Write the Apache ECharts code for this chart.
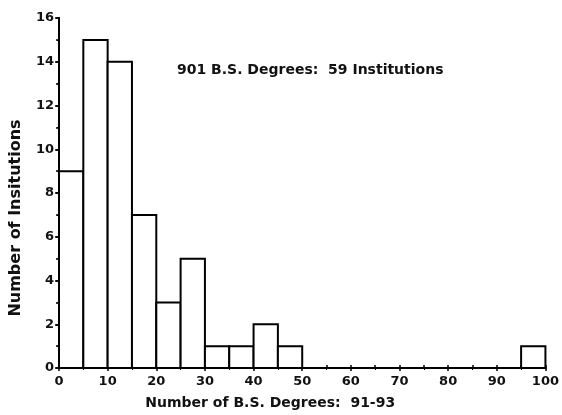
<!DOCTYPE html>
<html>
<head>
<meta charset="utf-8">
<script src="https://cdn.jsdelivr.net/npm/echarts@6/dist/echarts.min.js"></script>
<style>
  html, body { margin: 0; padding: 0; background: #fff; }
  #chart { width: 562px; height: 415px; }
</style>
</head>
<body>
<div id="chart"></div>
<script>
// histogram bins (lower edge, width 5) and counts
const binStarts = [0, 5, 10, 15, 20, 25, 30, 35, 40, 45, 95]
const binWidth = 5
const counts = [9, 15, 14, 7, 3, 5, 1, 1, 2, 1, 1]

const xTicks = [0, 10, 20, 30, 40, 50, 60, 70, 80, 90, 100]
const yTicks = [0, 2, 4, 6, 8, 10, 12, 14, 16]

const font = 'DejaVu Sans'

const chart = echarts.init(document.getElementById('chart'))

const renderBin = (params, api) => {
  const x0 = api.value(0)
  const p1 = api.coord([x0, api.value(1)])
  const p2 = api.coord([x0 + binWidth, 0])
  return {
    type: 'rect',
    shape: { x: p1[0], y: p1[1], width: p2[0] - p1[0], height: p2[1] - p1[1] },
    style: { fill: '#fff', stroke: '#000', lineWidth: 2 }
  }
}

chart.setOption({
  animation: false,
  backgroundColor: '#fff',
  grid: { left: 57, right: 6, top: 18, bottom: 46 },
  title: {
    text: '901 B.S. Degrees:  59 Institutions',
    left: 172,
    top: 58,
    textStyle: { fontFamily: font, fontSize: 14, fontWeight: 'bold', color: '#111' }
  },
  xAxis: [
    {
      type: 'value',
      min: xTicks[0],
      max: xTicks[xTicks.length - 1],
      interval: 10,
      name: 'Number of B.S. Degrees:  91-93',
      nameLocation: 'middle',
      nameGap: 28,
      nameTextStyle: { fontFamily: font, fontSize: 14, fontWeight: 'bold', color: '#111', padding: [0, 64, 0, 0] },
      splitLine: { show: false },
      axisLine: { lineStyle: { color: '#000', width: 2 } },
      axisTick: { inside: false, length: 3, lineStyle: { color: '#000', width: 1.5 } },
      minorTick: { show: true, splitNumber: 2, length: 2, lineStyle: { color: '#000' } },
      axisLabel: { fontFamily: font, fontSize: 13, fontWeight: 'bold', color: '#111', margin: 7 }
    },
    {
      type: 'value',
      position: 'top',
      min: xTicks[0],
      max: xTicks[xTicks.length - 1],
      interval: 5,
      splitLine: { show: false },
      axisLine: { show: true, lineStyle: { color: '#000', width: 2 } },
      axisTick: { show: true, length: 3, lineStyle: { color: '#000', width: 1.5 } },
      axisLabel: { show: false }
    }
  ],
  yAxis: [
    {
      type: 'value',
      min: yTicks[0],
      max: yTicks[yTicks.length - 1],
      interval: 2,
      name: 'Number of Insitutions',
      nameLocation: 'middle',
      nameGap: 35,
      nameTextStyle: { fontFamily: font, fontSize: 16, fontWeight: 'bold', color: '#111', padding: [0, 50, 0, 0] },
      splitLine: { show: false },
      axisLine: { show: true, lineStyle: { color: '#000', width: 2 } },
      axisTick: { show: true, length: 4, lineStyle: { color: '#000', width: 1.5 } },
      minorTick: { show: true, splitNumber: 2, length: 2, lineStyle: { color: '#000' } },
      axisLabel: { fontFamily: font, fontSize: 13, fontWeight: 'bold', color: '#111', margin: 5 }
    },
    {
      type: 'value',
      position: 'right',
      min: yTicks[0],
      max: yTicks[yTicks.length - 1],
      interval: 1,
      splitLine: { show: false },
      axisLine: { show: true, lineStyle: { color: '#000', width: 2 } },
      axisTick: { show: true, inside: true, length: 3, lineStyle: { color: '#000', width: 1.5 } },
      axisLabel: { show: false }
    }
  ],
  series: [
    {
      type: 'custom',
      renderItem: renderBin,
      encode: { x: 0, y: 1 },
      data: binStarts.map((s, i) => [s, counts[i]])
    }
  ]
})
</script>
</body>
</html>
